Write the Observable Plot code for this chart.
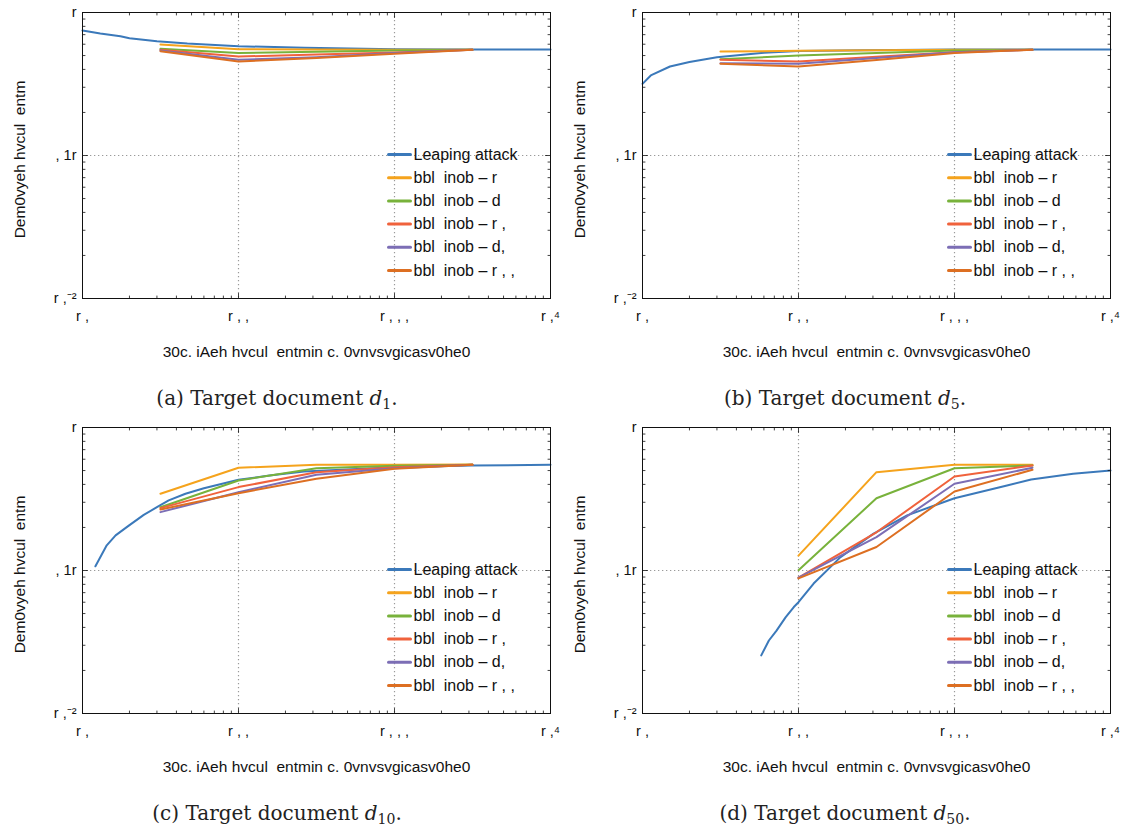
<!DOCTYPE html>
<html>
<head>
<meta charset="utf-8">
<script src="https://cdn.jsdelivr.net/npm/d3@7"></script>
<script src="https://cdn.jsdelivr.net/npm/@observablehq/plot@0.6"></script>
<style>
  html, body { margin: 0; padding: 0; background: #fff; }
  #root { position: relative; width: 1127px; height: 830px; background: #fff; overflow: hidden; }
  .panel { position: absolute; }
  .caption { position: absolute; width: 560px; text-align: center; font-family: "DejaVu Serif", "Liberation Serif", serif; font-size: 20px; color: #222; line-height: 24px; }
  .caption sub { font-size: 14px; vertical-align: -4px; line-height: 0; }
</style>
</head>
<body>
<div id="root"></div>
<script>
// ---------- text ----------
const seriesNames = ["Leaping attack", "bbl  inob \u2013 r", "bbl  inob \u2013 d", "bbl  inob \u2013 r ,", "bbl  inob \u2013 d,", "bbl  inob \u2013 r , ,"];
const seriesColors = ["#3b79ba", "#f5a31c", "#78b23b", "#f0623c", "#7c6eb5", "#dd6f22"];
const xAxisLabel = "30c. iAeh hvcul  entmin c. 0vnvsvgicasv0he0";
const yAxisLabel = "Dem0vyeh hvcul  entm";
const xTickValues = [10, 100, 1000, 10000];
const xTickLabels = ["r ,", "r , ,", "r , , ,", "r ,\u2074"];
const yTickValues = [0.01, 0.1, 1];
const yTickLabels = ["r ,\u207B\u00B2", ", 1r", "r"];
const panelLetters = ["a", "b", "c", "d"];
const panelDocs = ["1", "5", "10", "50"];

// ---------- data ----------
const bblXFull = [31.6, 100, 316, 1000, 3162];
const bblXLate = [100, 316, 1000, 3162];

// (a) d1
const aLeapX = [10, 13, 17.5, 20, 30, 47, 100, 265, 1000, 3100, 10000];
const aLeapY = [0.748, 0.713, 0.683, 0.661, 0.63, 0.607, 0.581, 0.566, 0.554, 0.551, 0.551];
const aR   = [0.597, 0.553, 0.551, 0.549, 0.549];
const aD   = [0.557, 0.52, 0.531, 0.542, 0.549];
const aR1  = [0.549, 0.492, 0.508, 0.525, 0.549];
const aD1  = [0.542, 0.467, 0.487, 0.52, 0.549];
const aR11 = [0.536, 0.454, 0.48, 0.514, 0.549];

// (b) d5
const bLeapX = [10, 11.3, 15, 20, 30, 60, 100, 263, 1000, 10000];
const bLeapY = [0.317, 0.363, 0.419, 0.45, 0.487, 0.523, 0.537, 0.545, 0.551, 0.551];
const bR   = [0.533, 0.54, 0.545, 0.548, 0.549];
const bD   = [0.472, 0.5, 0.52, 0.542, 0.549];
const bR1  = [0.467, 0.454, 0.49, 0.528, 0.549];
const bD1  = [0.442, 0.438, 0.48, 0.528, 0.549];
const bR11 = [0.438, 0.419, 0.465, 0.52, 0.549];

// (c) d10
const cLeapX = [12.1, 14.3, 16.3, 19.8, 24.7, 30, 35.7, 45.7, 60, 100, 158, 263, 1000, 3100, 10000];
const cLeapY = [0.107, 0.15, 0.176, 0.206, 0.245, 0.277, 0.309, 0.344, 0.376, 0.431, 0.461, 0.492, 0.528, 0.542, 0.548];
const cR   = [0.344, 0.523, 0.548, 0.55, 0.551];
const cD   = [0.277, 0.426, 0.519, 0.54, 0.549];
const cR1  = [0.273, 0.383, 0.487, 0.528, 0.549];
const cD1  = [0.256, 0.353, 0.467, 0.519, 0.549];
const cR11 = [0.267, 0.347, 0.438, 0.514, 0.549];

// (d) d50
const dLeapX = [57.7, 64.6, 72.3, 82.6, 93.3, 100, 125, 186, 303, 497, 1000, 2170, 3100, 5760, 10000];
const dLeapY = [0.0255, 0.0324, 0.038, 0.047, 0.0555, 0.06, 0.081, 0.124, 0.181, 0.243, 0.32, 0.393, 0.433, 0.475, 0.5];
const dR   = [0.127, 0.487, 0.548, 0.548];
const dD   = [0.1005, 0.32, 0.519, 0.542];
const dR1  = [0.089, 0.185, 0.454, 0.542];
const dD1  = [0.089, 0.171, 0.404, 0.523];
const dR11 = [0.088, 0.146, 0.357, 0.506];

const panels = [
  {leapX: aLeapX, leapY: aLeapY, bblX: bblXFull, bbl: [aR, aD, aR1, aD1, aR11]},
  {leapX: bLeapX, leapY: bLeapY, bblX: bblXFull, bbl: [bR, bD, bR1, bD1, bR11]},
  {leapX: cLeapX, leapY: cLeapY, bblX: bblXFull, bbl: [cR, cD, cR1, cD1, cR11]},
  {leapX: dLeapX, leapY: dLeapY, bblX: bblXLate, bbl: [dR, dD, dR1, dD1, dR11]}
];

// ---------- drawing ----------
const tickShape = {draw(ctx, l) { ctx.moveTo(0, 0); ctx.lineTo(0, -l); }};
const xMinor = d3.scaleLog().domain([10, 10000]).ticks().filter(v => !xTickValues.includes(v));
const yMinor = d3.scaleLog().domain([0.01, 1]).ticks().filter(v => !yTickValues.some(t => Math.abs(t - v) < 1e-9));
const xLabelMap = new Map(xTickValues.map((v, i) => [v, xTickLabels[i]]));
const yLabelMap = new Map(yTickValues.map((v, i) => [v, yTickLabels[i]]));
const frameColor = "#111";

function tickMarks() {
  const marks = [];
  const sets = [[xTickValues, 5], [xMinor, 2.5]];
  for (const [vals, len] of sets) {
    marks.push(Plot.vector(vals, {x: d => d, frameAnchor: "bottom", rotate: 0, length: len, anchor: "start", shape: tickShape, stroke: frameColor, strokeWidth: 0.8}));
    marks.push(Plot.vector(vals, {x: d => d, frameAnchor: "top", rotate: 180, length: len, anchor: "start", shape: tickShape, stroke: frameColor, strokeWidth: 0.8}));
  }
  const ysets = [[yTickValues, 5], [yMinor, 2.5]];
  for (const [vals, len] of ysets) {
    marks.push(Plot.vector(vals, {y: d => d, frameAnchor: "left", rotate: 90, length: len, anchor: "start", shape: tickShape, stroke: frameColor, strokeWidth: 0.8}));
    marks.push(Plot.vector(vals, {y: d => d, frameAnchor: "right", rotate: -90, length: len, anchor: "start", shape: tickShape, stroke: frameColor, strokeWidth: 0.8}));
  }
  return marks;
}

function legendMarks() {
  const marks = [];
  seriesNames.forEach((name, i) => {
    const dy = 142 + i * 23.2;
    marks.push(Plot.vector([name], {frameAnchor: "top-left", dx: 306, dy, rotate: 90, length: 22, anchor: "start", shape: tickShape, stroke: seriesColors[i], strokeWidth: 3}));
    marks.push(Plot.text([name], {frameAnchor: "top-left", dx: 331, dy, text: d => d, textAnchor: "start", lineAnchor: "middle", fontSize: 16, fill: "#111"}));
  });
  return marks;
}

function makePanel(p) {
  const leap = p.leapX.map((x, i) => ({x, y: p.leapY[i]}));
  const bblLines = p.bbl.map((vals, s) => {
    const data = p.bblX.map((x, i) => ({x, y: vals[i]}));
    return Plot.line(data, {x: "x", y: "y", stroke: seriesColors[s + 1], strokeWidth: 2});
  });
  return Plot.plot({
    width: 560, height: 380,
    marginLeft: 82, marginRight: 10, marginTop: 12, marginBottom: 82,
    x: {type: "log", domain: [10, 10000]},
    y: {type: "log", domain: [0.01, 1]},
    style: {fontFamily: "'Liberation Sans', Arial, sans-serif", fontSize: "14px", background: "transparent", overflow: "visible", color: "#111"},
    marks: [
      Plot.ruleX(xTickValues.slice(1, -1), {stroke: "#9a9a9a", strokeWidth: 1.2, strokeDasharray: "1.3,2.7"}),
      Plot.ruleY(yTickValues.slice(1, -1), {stroke: "#9a9a9a", strokeWidth: 1.2, strokeDasharray: "1.3,2.7"}),
      Plot.line(leap, {x: "x", y: "y", stroke: seriesColors[0], strokeWidth: 2}),
      ...bblLines,
      ...tickMarks(),
      Plot.frame({stroke: frameColor, strokeWidth: 1}),
      Plot.axisX({ticks: xTickValues, tickFormat: d => xLabelMap.get(d), tickSize: 0, tickPadding: 12, label: null, fontSize: 14.5}),
      Plot.axisY({ticks: yTickValues, tickFormat: d => yLabelMap.get(d), tickSize: 0, tickPadding: 6, label: null, fontSize: 14.5}),
      Plot.text([xAxisLabel], {frameAnchor: "bottom", dy: 54, text: d => d, lineAnchor: "middle", textAnchor: "middle", fontSize: 15.5, fill: "#111"}),
      Plot.text([yAxisLabel], {frameAnchor: "left", dx: -62, dy: 4, rotate: -90, text: d => d, lineAnchor: "middle", textAnchor: "middle", fontSize: 15.5, fill: "#111"}),
      ...legendMarks()
    ]
  });
}

const root = document.getElementById("root");
const offsets = [[0, 0], [560, 0], [0, 415], [560, 415]];
const captionCenters = [277, 845, 277, 845];
panels.forEach((p, i) => {
  const div = document.createElement("div");
  div.className = "panel";
  div.style.left = offsets[i][0] + "px";
  div.style.top = offsets[i][1] + "px";
  div.appendChild(makePanel(p));
  root.appendChild(div);
  const cap = document.createElement("div");
  cap.className = "caption";
  cap.style.left = (captionCenters[i] - 280) + "px";
  cap.style.top = (offsets[i][1] + 386) + "px";
  cap.innerHTML = "(" + panelLetters[i] + ") Target document <i>d</i><sub>" + panelDocs[i] + "</sub>.";
  root.appendChild(cap);
});
</script>
</body>
</html>
